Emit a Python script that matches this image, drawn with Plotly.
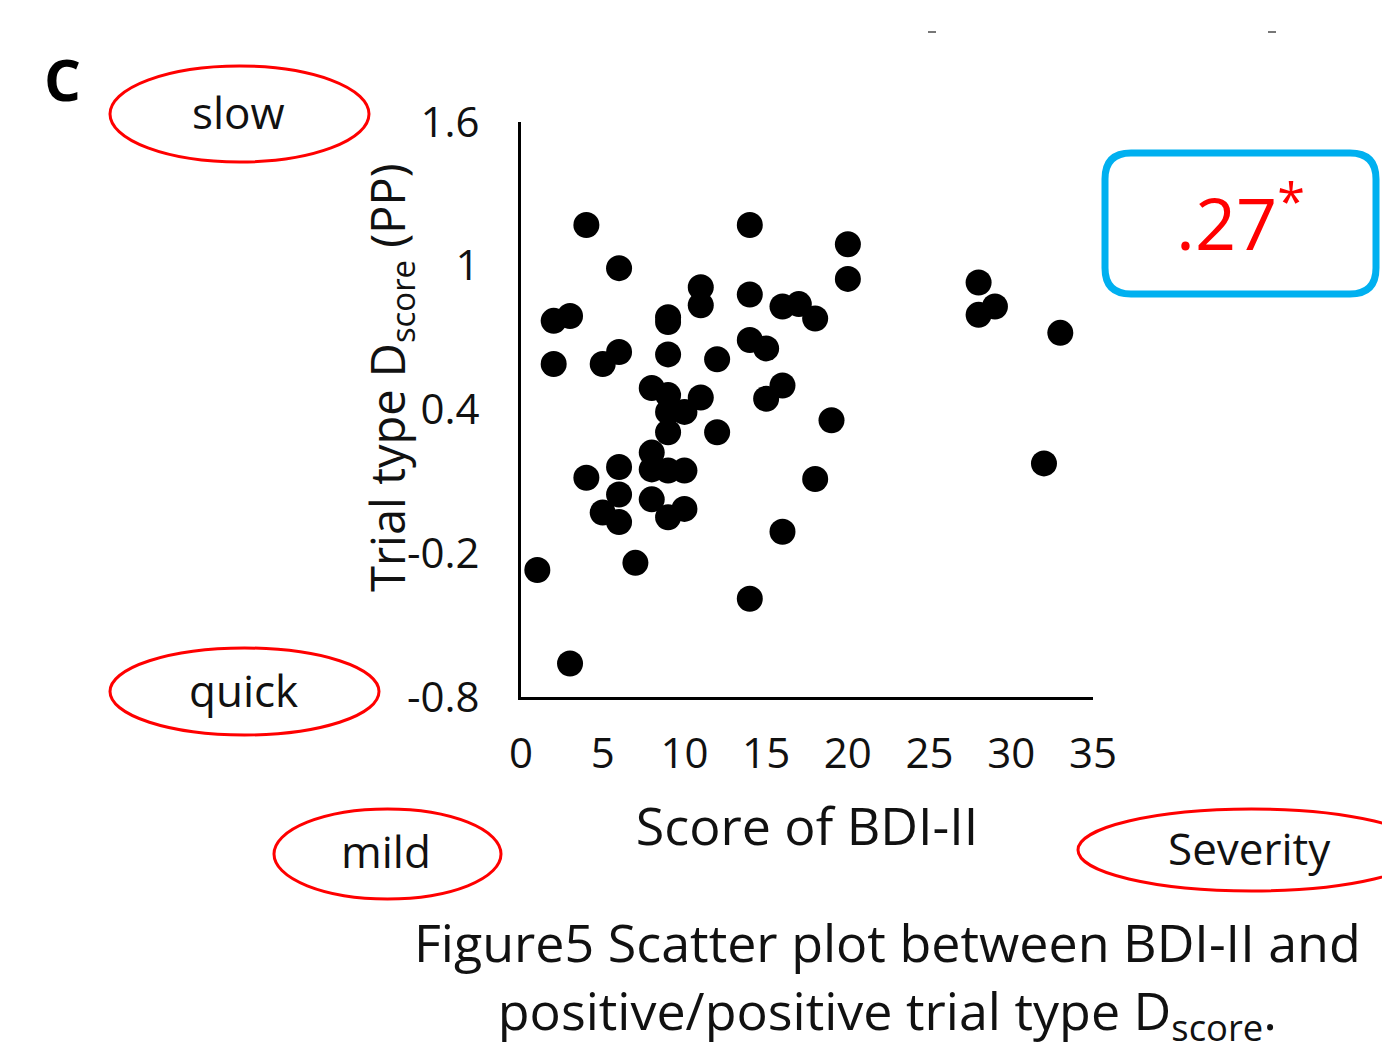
import plotly.graph_objects as go

# ---- data ----
bdi_score = [4, 14, 6, 2, 3, 2, 5, 6, 11, 11, 9, 9, 9, 14, 16, 17, 18, 20, 20, 28,
             28, 29, 33, 14, 15, 15, 16, 19, 12, 32, 18, 16, 14, 12, 1, 3, 7, 4, 6, 6,
             5, 6, 8, 8, 9, 10, 9, 10, 9, 8, 9, 11, 9, 10, 8]
d_score = [1.17, 1.17, 0.99, 0.77, 0.79, 0.59, 0.59, 0.64, 0.91, 0.835, 0.785, 0.765, 0.63,
           0.88, 0.83, 0.84, 0.78, 1.09, 0.945, 0.93, 0.795, 0.83, 0.72, 0.69, 0.655, 0.445,
           0.50, 0.355, 0.61, 0.175, 0.11, -0.11, -0.39, 0.305, -0.27, -0.66, -0.24, 0.115,
           0.16, 0.045, -0.03, -0.07, 0.22, 0.025, 0.145, 0.145, -0.05, -0.015, 0.305, 0.49,
           0.46, 0.45, 0.39, 0.39, 0.15]
x_ticks = [0, 5, 10, 15, 20, 25, 30, 35]
y_ticks = [-0.8, -0.2, 0.4, 1.0, 1.6]
y_tick_text = ["-0.8", "-0.2", "0.4", "1", "1.6"]
corr_text = ".27"

FONT = "Open Sans, sans-serif"

# page body has an 8px margin; lay the figure out so the page matches the reference
OFF = 8
W, H = 1390 - OFF, 1046 - OFF
L, R, T, B = 521 - OFF, 1093 - OFF, 122 - OFF, 697 - OFF


def px(x):
    return (x - OFF - L) / (R - L)


def py(y):
    return (B - (y - OFF)) / (B - T)


fig = go.Figure()
fig.add_trace(go.Scatter(
    x=bdi_score, y=d_score, mode="markers",
    marker=dict(size=26, color="black", line=dict(width=0)),
    showlegend=False, hoverinfo="x+y"))

shapes = []
# red ellipses
for (x0, y0, x1, y1) in [(110, 66, 369, 162), (110, 648, 379, 735),
                         (274, 809, 501, 899), (1078, 809, 1425, 891)]:
    shapes.append(dict(type="circle", xref="paper", yref="paper",
                       x0=px(x0), x1=px(x1), y0=py(y1), y1=py(y0),
                       line=dict(color="#ff0000", width=3)))

# blue rounded rectangle
bx0, bx1, by0, by1, r = 1105, 1376, 153, 294, 26
path = (f"M {px(bx0 + r)},{py(by0)} L {px(bx1 - r)},{py(by0)} "
        f"Q {px(bx1)},{py(by0)} {px(bx1)},{py(by0 + r)} "
        f"L {px(bx1)},{py(by1 - r)} Q {px(bx1)},{py(by1)} {px(bx1 - r)},{py(by1)} "
        f"L {px(bx0 + r)},{py(by1)} Q {px(bx0)},{py(by1)} {px(bx0)},{py(by1 - r)} "
        f"L {px(bx0)},{py(by0 + r)} Q {px(bx0)},{py(by0)} {px(bx0 + r)},{py(by0)} Z")
shapes.append(dict(type="path", xref="paper", yref="paper", path=path,
                   line=dict(color="#00b0f0", width=7)))

# small stray marks at the top of the crop
for xm in (932, 1272):
    shapes.append(dict(type="line", xref="paper", yref="paper",
                       x0=px(xm - 4), x1=px(xm + 4), y0=py(32), y1=py(32),
                       line=dict(color="#777777", width=2)))

annotations = [
    dict(text="<b>C</b>", x=px(62), y=py(78), font=dict(size=58, color="black", family=FONT)),
    dict(text="slow", x=px(238), y=py(112), font=dict(size=44, color="#111", family=FONT)),
    dict(text="quick", x=px(243), y=py(690), font=dict(size=44, color="#111", family=FONT)),
    dict(text="mild", x=px(386), y=py(851), font=dict(size=44, color="#111", family=FONT)),
    dict(text="Severity", x=px(1249), y=py(848), font=dict(size=44, color="#111", family=FONT)),
    dict(text=corr_text + "<sup>*</sup>", x=px(1240), y=py(218),
         font=dict(size=72, color="#ff0000", family=FONT)),
    dict(text="Trial type D<sub>score</sub> (PP)", x=px(390), y=py(378), textangle=-90,
         font=dict(size=47, color="#111", family=FONT)),
    dict(text="Figure5 Scatter plot between BDI-II and<br>positive/positive trial type D<sub>score</sub>.",
         x=px(887), y=py(979), font=dict(size=52, color="#111", family=FONT)),
]
for a in annotations:
    a.update(xref="paper", yref="paper", showarrow=False, xanchor="center", yanchor="middle")

fig.update_layout(
    width=W, height=H,
    margin=dict(l=L, r=W - R, t=T, b=H - B, autoexpand=False),
    paper_bgcolor="white", plot_bgcolor="white",
    font=dict(family=FONT, color="#111"),
    shapes=shapes, annotations=annotations,
    xaxis=dict(range=[0, 35], tickvals=x_ticks, showgrid=False, zeroline=False,
               showline=True, linecolor="black", linewidth=3, ticks="", automargin=True,
               ticklabelstandoff=18, tickfont=dict(size=42, color="#111", family=FONT),
               title=dict(text="Score of BDI-II", font=dict(size=52, color="#111", family=FONT),
                          standoff=30)),
    yaxis=dict(range=[-0.8, 1.6], tickvals=y_ticks, ticktext=y_tick_text,
               showgrid=False, zeroline=False, showline=True, linecolor="black",
               linewidth=3, ticks="", ticklabelstandoff=30,
               tickfont=dict(size=42, color="#111", family=FONT)),
)

fig.write_html("out.html")
